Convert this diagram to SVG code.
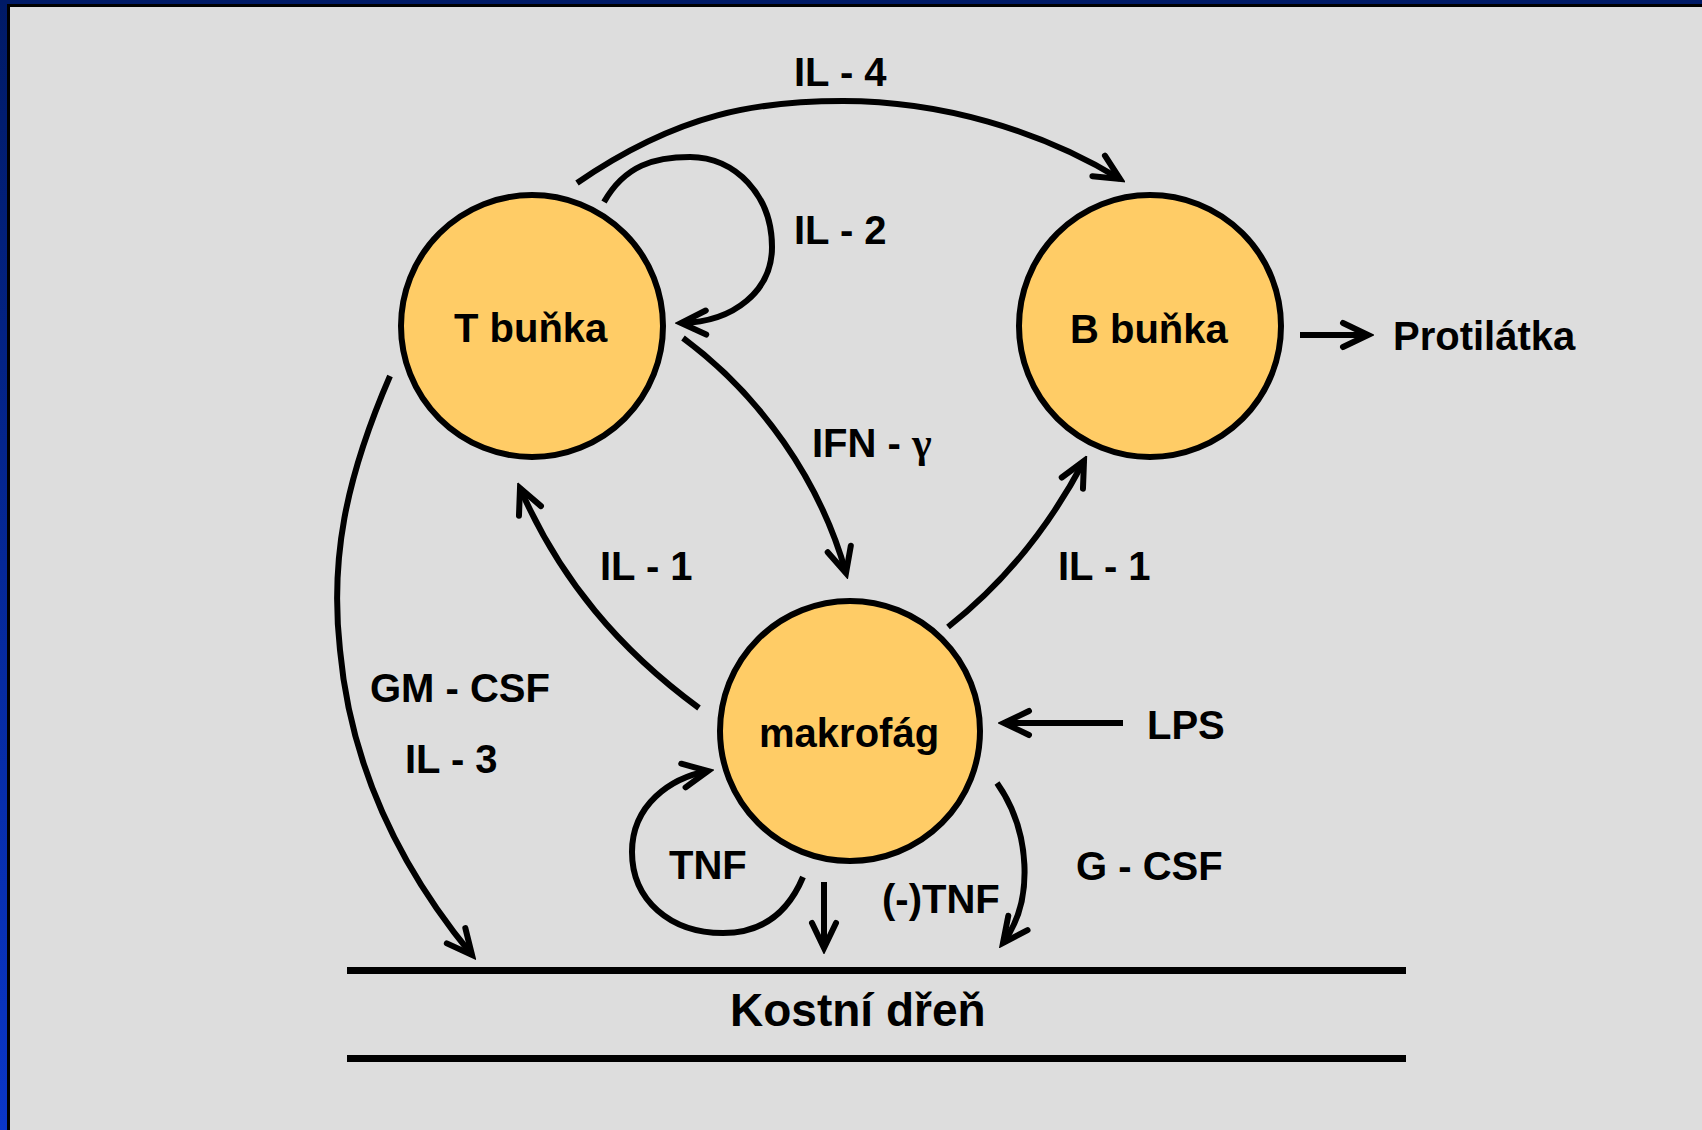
<svg xmlns="http://www.w3.org/2000/svg" width="1702" height="1130" viewBox="0 0 1702 1130">
<defs>
<linearGradient id="frame" x1="0" y1="0" x2="0" y2="1">
<stop offset="0" stop-color="#001a66"/>
<stop offset="1" stop-color="#0a36c8"/>
</linearGradient>
<marker id="arr" markerUnits="userSpaceOnUse" markerWidth="40" markerHeight="40" viewBox="-34 -20 40 40" refX="0" refY="0" orient="auto">
<path d="M-25,-12 L0,0 L-25,12" fill="none" stroke="#000" stroke-width="6" stroke-linecap="round" stroke-linejoin="miter"/>
</marker>
</defs>
<style>
.cell{fill:#ffcc66;stroke:#000;stroke-width:6}
.lbl{font-family:"Liberation Sans",Arial,sans-serif;font-weight:bold;font-size:40px;fill:#000}
.con{fill:none;stroke:#000;stroke-width:6}
.arw{marker-end:url(#arr)}
</style>
<rect x="0" y="0" width="1702" height="1130" fill="url(#frame)"/>
<rect x="7" y="4" width="1695" height="1126" fill="#000"/>
<rect x="10" y="7" width="1692" height="1123" fill="#dddddd"/>

<g id="connectors">
<path class="con arw" d="M577,183 C680,112 760,101 843,101 C940,101 1040,130 1120,179"/>
<path class="con arw" d="M604,202 C625,165 655,157 690,157 C735,157 772,195 772,247 C772,290 735,322 681,323"/>
<path class="con arw" d="M683,338 C760,395 820,480 846,573"/>
<path class="con arw" d="M699,708 C620,650 560,580 520,488"/>
<path class="con arw" d="M948,627 C995,590 1045,535 1084,461"/>
<path class="con arw" d="M390,376 C345,480 330,560 340,650 C352,780 410,880 472,955"/>
<path class="con arw" d="M1123,723 L1004,723"/>
<path class="con arw" d="M997,783 C1030,830 1035,900 1003,943"/>
<path class="con arw" d="M824,882 L824,948"/>
<path class="con arw" d="M803,877 C785,920 755,933 723,933 C670,933 632,900 632,852 C632,805 670,778 708,771"/>
<path class="con arw" d="M1300,335 L1368,335"/>
<line x1="347" y1="970.5" x2="1406" y2="970.5" stroke="#000" stroke-width="7"/>
<line x1="347" y1="1058.5" x2="1406" y2="1058.5" stroke="#000" stroke-width="7"/>
<text class="lbl" x="794" y="86">IL - 4</text>
<text class="lbl" x="794" y="244">IL - 2</text>
<text class="lbl" x="812" y="457">IFN - <tspan font-family="'Liberation Serif',serif" font-size="42">γ</tspan></text>
<text class="lbl" x="600" y="580">IL - 1</text>
<text class="lbl" x="1058" y="580">IL - 1</text>
<text class="lbl" x="370" y="702">GM - CSF</text>
<text class="lbl" x="405" y="773">IL - 3</text>
<text class="lbl" x="1147" y="739">LPS</text>
<text class="lbl" x="1076" y="880">G - CSF</text>
<text class="lbl" x="669" y="879">TNF</text>
<text class="lbl" x="882" y="913">(-)TNF</text>
</g>

<g id="t-bunka">
<circle class="cell" cx="532" cy="326" r="131"/>
<text class="lbl" x="454" y="342">T buňka</text>
</g>
<g id="b-bunka">
<circle class="cell" cx="1150" cy="326" r="131"/>
<text class="lbl" x="1070" y="343">B buňka</text>
</g>
<g id="makrofag">
<circle class="cell" cx="850" cy="731" r="130"/>
<text class="lbl" x="759" y="747">makrofág</text>
</g>
<g id="protilatka">
<text class="lbl" x="1393" y="350">Protilátka</text>
</g>
<g id="kostni-dren">
<text class="lbl" x="730" y="1026" style="font-size:46px">Kostní dřeň</text>
</g>
</svg>
